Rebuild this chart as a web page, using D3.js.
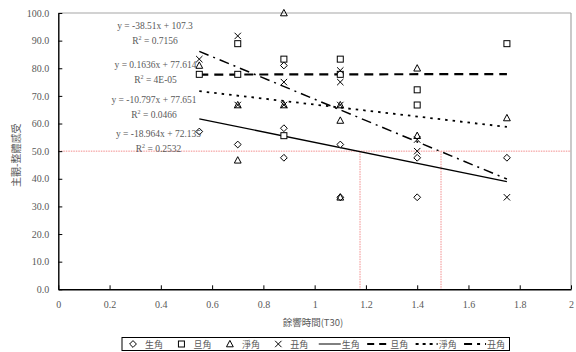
<!DOCTYPE html>
<html>
<head>
<meta charset="utf-8">
<script src="https://cdn.jsdelivr.net/npm/d3@7"></script>
<style>
  html, body { margin: 0; padding: 0; background: #fff; }
  svg { display: block; }
  .tick text { font-family: "Liberation Serif", "Times New Roman", serif; font-size: 10px; fill: #595959; }
  .cjk { font-family: "Noto Sans CJK TC", "Noto Sans CJK SC", sans-serif; fill: #595959; }
  .eq { font-family: "Liberation Serif", "Times New Roman", serif; font-size: 9.5px; fill: #595959; }
</style>
</head>
<body>
<svg id="chart" width="576" height="352"></svg>
<script>
// Reverberation time (T30) vs. overall subjective impression, per role type
const roleNames = ["生角", "旦角", "淨角", "丑角"];

const shengX = [0.55, 0.70, 0.88, 0.88, 0.88, 1.10, 1.10, 1.40, 1.40, 1.75];
const shengY = [57.1, 52.4, 81.0, 58.3, 47.6, 52.4, 33.3, 47.6, 33.3, 47.6];

const danX = [0.55, 0.70, 0.70, 0.88, 0.88, 1.10, 1.10, 1.40, 1.40, 1.75];
const danY = [77.8, 88.9, 77.8, 83.3, 55.6, 83.3, 77.8, 72.2, 66.7, 88.9];

const jingX = [0.55, 0.70, 0.70, 0.88, 0.88, 1.10, 1.10, 1.10, 1.40, 1.40, 1.75];
const jingY = [81.0, 46.7, 66.7, 100.0, 66.7, 61.1, 33.3, 66.7, 80.0, 55.6, 62.0];

const chouX = [0.55, 0.70, 0.70, 0.88, 0.88, 1.10, 1.10, 1.10, 1.40, 1.40, 1.75];
const chouY = [83.3, 91.7, 66.7, 75.0, 66.7, 79.2, 75.0, 66.7, 54.2, 50.0, 33.3];

// Linear trend lines (slope, intercept, R²) for each role
const trendSlope = [-18.964, 0.1636, -10.797, -38.51];
const trendIntercept = [72.135, 77.614, 77.651, 107.3];
const trendR2 = ["0.2532", "4E-05", "0.0466", "0.7156"];

// Reference threshold and the T30 values where it is crossed
const thresholdY = 50;
const crossX = [1.177, 1.493];

const xTicks = [0, 0.2, 0.4, 0.6, 0.8, 1, 1.2, 1.4, 1.6, 1.8, 2];
const yTicks = [0, 10, 20, 30, 40, 50, 60, 70, 80, 90, 100];

const xTitle = "餘響時間(T30)";
const yTitle = "主觀-整體感受";

const seriesX = [shengX, danX, jingX, chouX];
const seriesY = [shengY, danY, jingY, chouY];

const svg = d3.select("#chart");
const x = d3.scaleLinear().domain([0, 2]).range([58.3, 571]);
const y = d3.scaleLinear().domain([0, 100]).range([289.3, 13]);

// Plot frame: grey top/right border
svg.append("line").attr("x1", x(0)).attr("x2", x(2)).attr("y1", y(100)).attr("y2", y(100))
  .attr("stroke", "#a6a6a6").attr("stroke-width", 1.2);
svg.append("line").attr("x1", x(2)).attr("x2", x(2)).attr("y1", y(100)).attr("y2", y(0))
  .attr("stroke", "#a6a6a6").attr("stroke-width", 1.2);

// Threshold lines
const refColor = "#f28c8c";
svg.append("line").attr("x1", x(0)).attr("x2", x(2)).attr("y1", y(thresholdY)).attr("y2", y(thresholdY))
  .attr("stroke", refColor).attr("stroke-width", 1).attr("stroke-dasharray", "1.5,1");
crossX.forEach(cx => {
  svg.append("line").attr("x1", x(cx)).attr("x2", x(cx)).attr("y1", y(thresholdY)).attr("y2", y(0))
    .attr("stroke", refColor).attr("stroke-width", 1).attr("stroke-dasharray", "1.5,1");
});

// Axes
const yAxis = d3.axisLeft(y).tickValues(yTicks).tickFormat(d3.format(".1f"))
  .tickSizeInner(-4).tickSizeOuter(0).tickPadding(9);
const gy = svg.append("g").attr("transform", `translate(${x(0)},0)`).call(yAxis);
const xAxis = d3.axisBottom(x).tickValues(xTicks).tickFormat(d3.format("~g"))
  .tickSizeInner(-4).tickSizeOuter(0).tickPadding(12);
const gx = svg.append("g").attr("transform", `translate(0,${y(0)})`).call(xAxis);
[gx, gy].forEach(g => {
  g.select(".domain").attr("stroke", "#000").attr("stroke-width", 1.4);
  g.selectAll(".tick line").attr("stroke", "#000").attr("stroke-width", 1);
});

// Axis titles
svg.append("text").attr("class", "cjk").attr("x", 313).attr("y", 326)
  .attr("text-anchor", "middle").attr("font-size", 9.5).text(xTitle);
svg.append("text").attr("class", "cjk")
  .attr("transform", `translate(20,${(y(0) + y(100)) / 2 + 4}) rotate(-90)`)
  .attr("text-anchor", "middle").attr("font-size", 10).text(yTitle);

// Trend line styles per role
const dashes = [null, "9,6", "2.5,5", "10,5,2,5"];
const widths = [1.3, 2.2, 1.8, 1.5];

const trends = svg.append("g");
roleNames.forEach((name, i) => {
  const [x0, x1] = d3.extent(seriesX[i]);
  const pts = [x0, x1].map(v => [v, trendSlope[i] * v + trendIntercept[i]]);
  trends.append("path")
    .attr("d", d3.line().x(d => x(d[0])).y(d => y(d[1]))(pts))
    .attr("fill", "none").attr("stroke", "#000")
    .attr("stroke-width", widths[i])
    .attr("stroke-dasharray", dashes[i]);
});

// Marker symbols
function drawMarker(g, type, cx, cy) {
  if (type === 0) {
    g.append("path").attr("d", `M${cx},${cy - 3.4}L${cx + 3.4},${cy}L${cx},${cy + 3.4}L${cx - 3.4},${cy}Z`)
      .attr("fill", "#fff").attr("stroke", "#000").attr("stroke-width", 1);
  } else if (type === 1) {
    g.append("rect").attr("x", cx - 3).attr("y", cy - 3).attr("width", 6).attr("height", 6)
      .attr("fill", "#fff").attr("stroke", "#000").attr("stroke-width", 1);
  } else if (type === 2) {
    g.append("path").attr("d", `M${cx},${cy - 3.6}L${cx + 3.4},${cy + 2.8}L${cx - 3.4},${cy + 2.8}Z`)
      .attr("fill", "none").attr("stroke", "#000").attr("stroke-width", 1);
  } else {
    g.append("path").attr("d", `M${cx - 3.2},${cy - 3.2}L${cx + 3.2},${cy + 3.2}M${cx + 3.2},${cy - 3.2}L${cx - 3.2},${cy + 3.2}`)
      .attr("fill", "none").attr("stroke", "#000").attr("stroke-width", 1);
  }
}

const marks = svg.append("g");
roleNames.forEach((name, i) => {
  seriesX[i].forEach((xv, j) => drawMarker(marks, i, x(xv), y(seriesY[i][j])));
});

// Trend equations with R²
const fmtEq = (m, b) => `y = ${m}x + ${b}`;
const eqPos = [[158.5, 137], [155.5, 68], [154, 103], [155, 29]];
roleNames.forEach((name, i) => {
  const [ex, ey] = eqPos[i];
  svg.append("text").attr("class", "eq").attr("x", ex).attr("y", ey).attr("text-anchor", "middle")
    .text(fmtEq(trendSlope[i], trendIntercept[i]));
  const r = svg.append("text").attr("class", "eq").attr("x", ex).attr("y", ey + 15).attr("text-anchor", "middle");
  r.append("tspan").text("R");
  r.append("tspan").attr("dy", -4).attr("font-size", 6).text("2");
  r.append("tspan").attr("dy", 4).text(" = " + trendR2[i]);
});

// Legend
const legend = svg.append("g");
const lgX0 = 122, lgX1 = 509.5, lgY0 = 337.5, lgY1 = 350.5;
legend.append("rect").attr("x", lgX0).attr("y", lgY0).attr("width", lgX1 - lgX0).attr("height", lgY1 - lgY0)
  .attr("fill", "#fff").attr("stroke", "#000").attr("stroke-width", 1);
const step = (lgX1 - lgX0) / 8;
const lgMid = (lgY0 + lgY1) / 2;
const legendDash = [null, "7,5", "3,4", "8,5,3,5"];
roleNames.forEach((name, i) => {
  const sx = lgX0 + i * step;
  drawMarker(legend, i, sx + 11, lgMid);
  legend.append("text").attr("class", "cjk").attr("x", sx + 23).attr("y", lgMid + 3.5)
    .attr("font-size", 9).text(name);
});
roleNames.forEach((name, i) => {
  const sx = lgX0 + (i + 4) * step;
  legend.append("line").attr("x1", sx + 3).attr("x2", sx + 25).attr("y1", lgMid).attr("y2", lgMid)
    .attr("stroke", "#000").attr("stroke-width", i === 0 ? 1 : 2)
    .attr("stroke-dasharray", legendDash[i]);
  legend.append("text").attr("class", "cjk").attr("x", sx + 26).attr("y", lgMid + 3.5)
    .attr("font-size", 9).text(name);
});
</script>
</body>
</html>
